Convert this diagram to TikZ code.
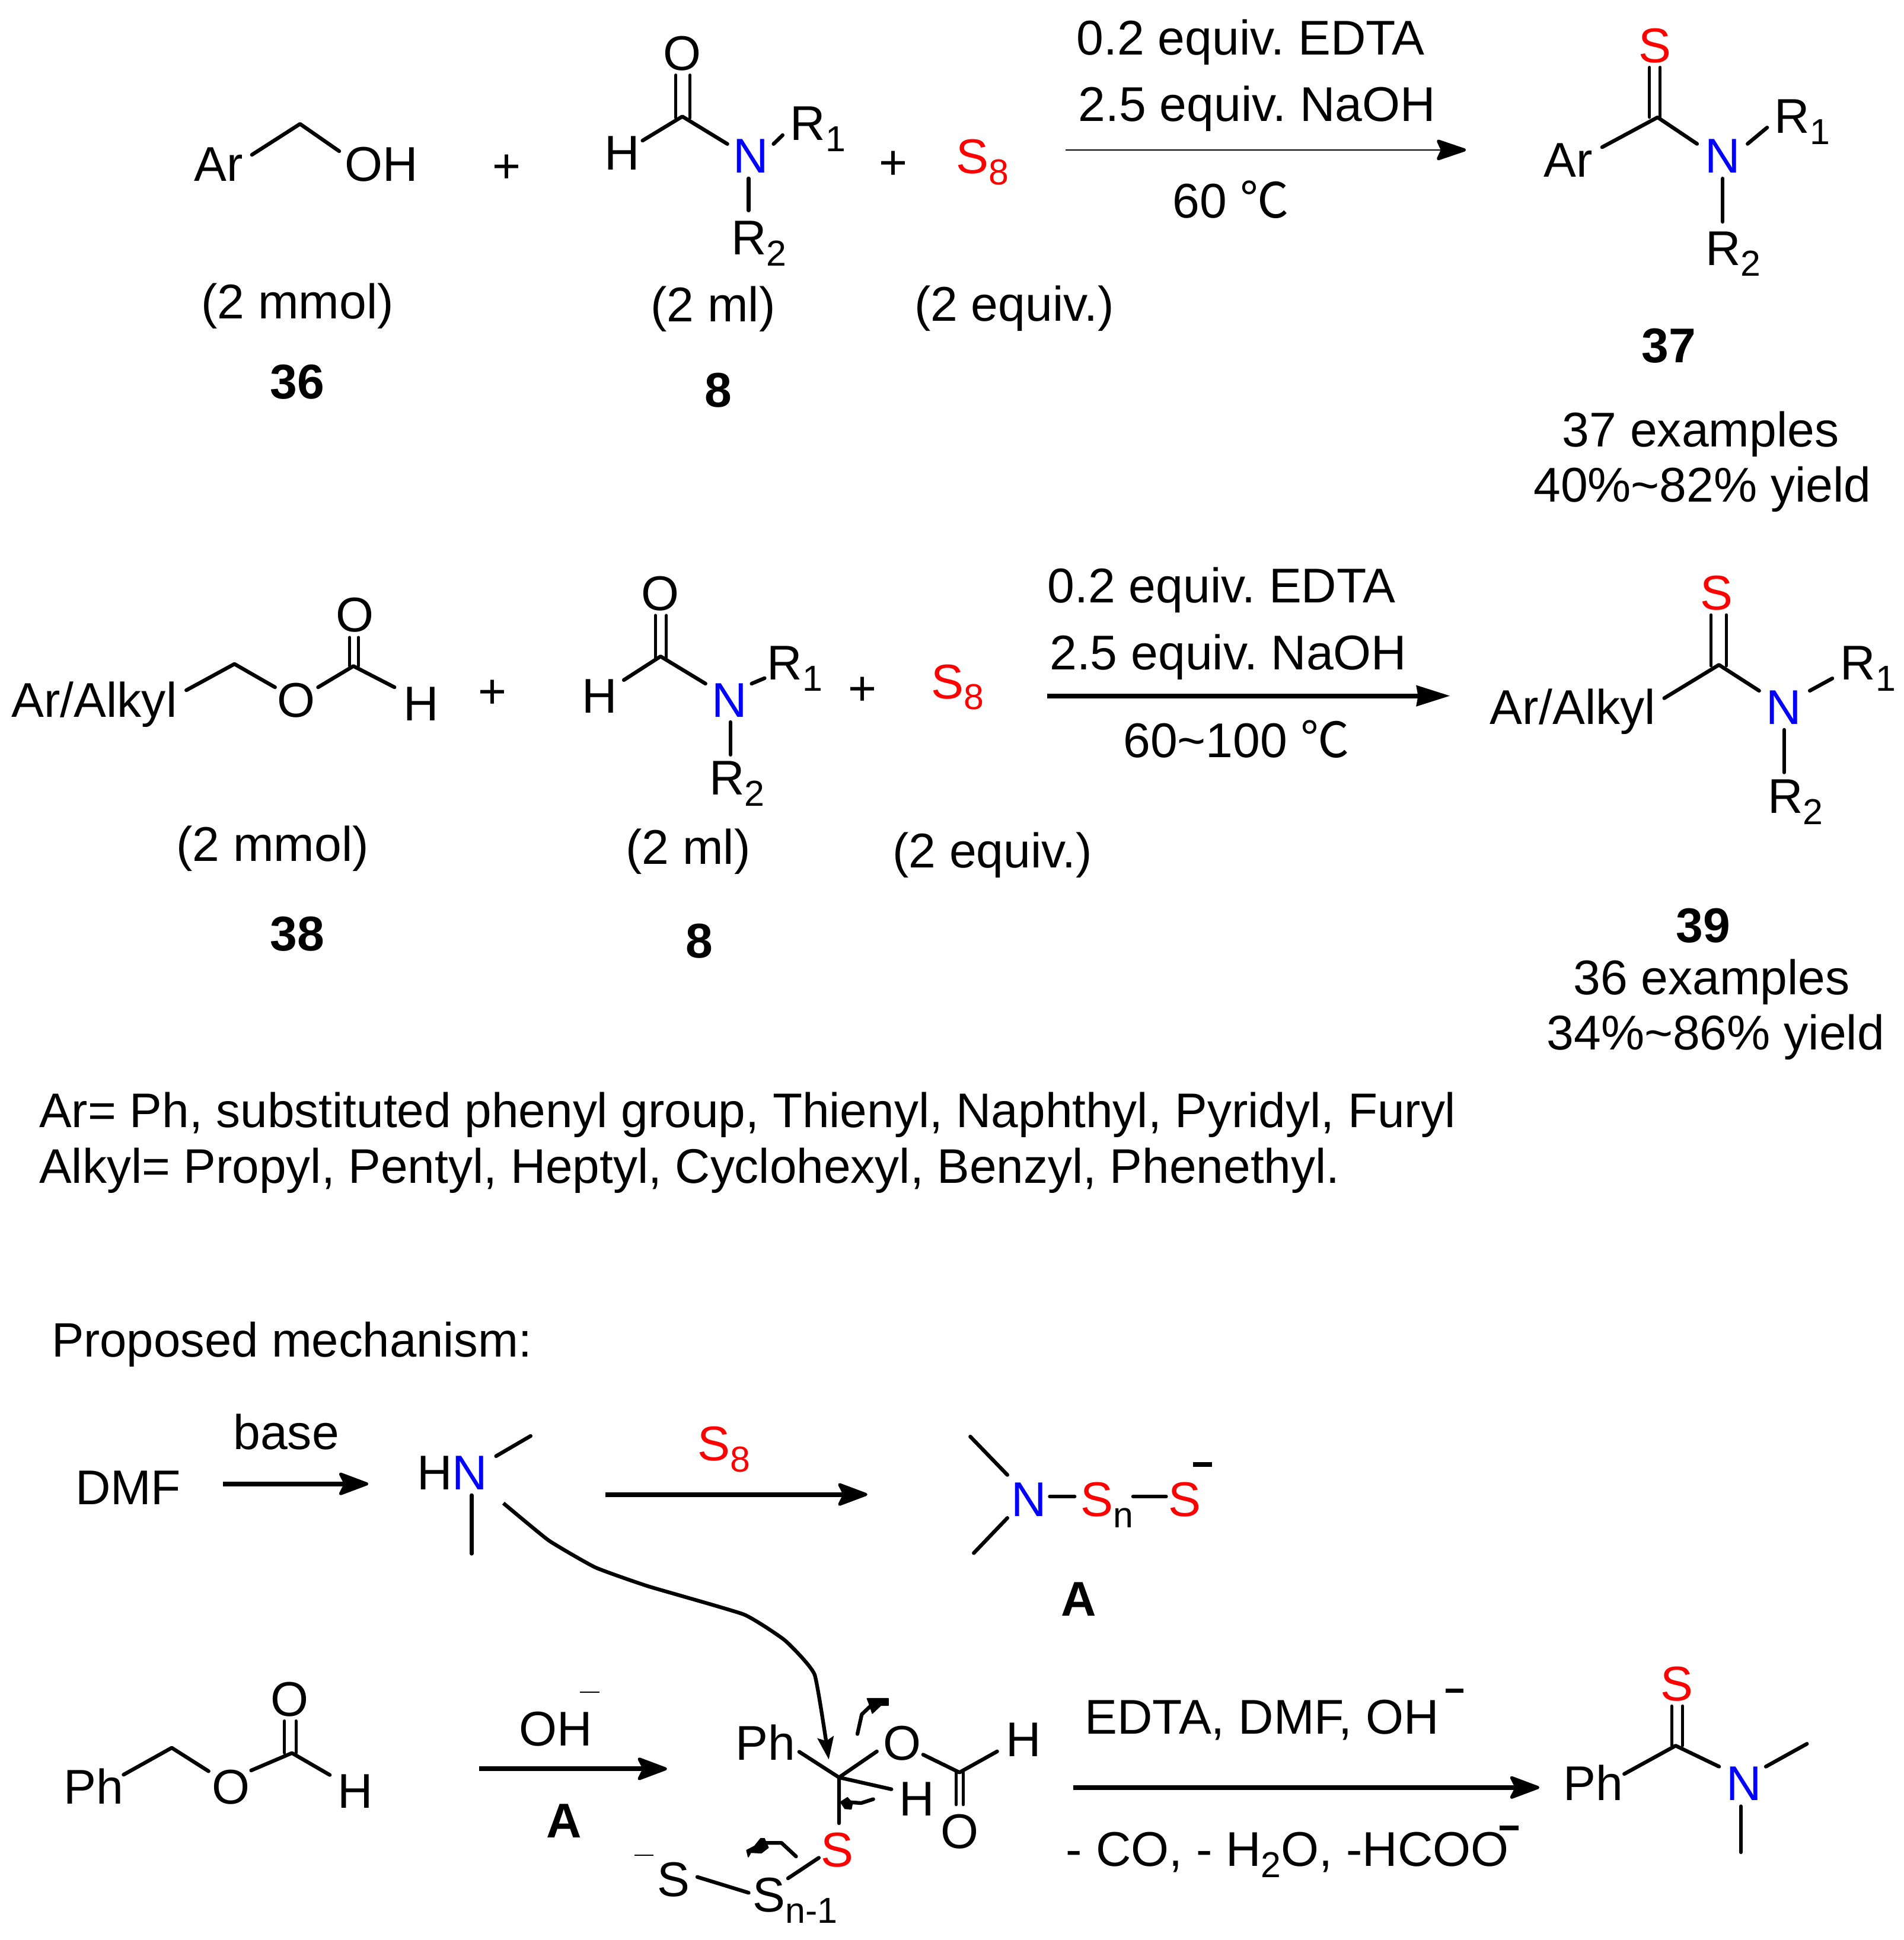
\documentclass[tikz,border=0pt]{standalone}
\usepackage{fontspec}
\setmainfont{Liberation Sans}
\newfontfamily\cjk{Noto Sans CJK SC}
\usetikzlibrary{arrows.meta}
\newcommand\lowr[1]{\raisebox{-9pt}{\fontsize{29}{29}\selectfont #1}}
\newcommand\cc[3]{\coordinate (#1) at (#2,#3);}
\tikzset{
  t/.style={inner sep=0pt,outer sep=0pt,anchor=base,yshift=-1pt,font=\fontsize{39.2}{39.2}\selectfont},
  tlz/.style={t,anchor=base west},
  tl/.style={tlz,xshift=-2pt},
  tb/.style={t,font=\fontsize{39.2}{39.2}\selectfont\bfseries},
  redt/.style={text={rgb,255:red,255;green,0;blue,0}},
  bluet/.style={text={rgb,255:red,0;green,0;blue,255}},
  bd/.style={line width=3pt,line cap=round,line join=round},
  db/.style={line width=2.4pt,line cap=round},
  rxn/.style={line width=3.8pt,-{Stealth[length=27pt,width=20pt,inset=5pt,round,line width=2.5pt]}},
  rxnb/.style={line width=3.8pt,-{Stealth[length=27pt,width=17pt,inset=1.5pt,line width=1pt]}},
  thinrxn/.style={line width=1.2pt,-{Stealth[length=27pt,width=18pt,inset=4pt,round,line width=2.5pt]}},
  chg/.style={line width=3.6pt},
  thinchg/.style={line width=1pt},
  blob/.style={fill=black,draw=black,line width=0.8pt,line join=round},
}
\begin{document}
\frenchspacing
\begin{tikzpicture}[x=1pt,y=-1pt]
\useasboundingbox[fill=white] (0,0) rectangle (1530,1559.07);
% ---------- row 1 ----------
\node[tlz] (ar1) at (156,144.6) {Ar};
\node[tl] (oh1) at (279,144.6) {OH};
\cc{a1}{202.4}{124.4}\cc{a2}{241.1}{99.6}\cc{a3}{272.6}{121.5}
\draw[bd] (a1)--(a2)--(a3);
\node[t] (plus1) at (407,146) {+};
\node[t] (o2) at (548.3,55.4) {O};
\node[tl] (h2) at (488,135.4) {H};
\node[t,bluet] (n2) at (603.5,138) {N};
\node[tl] (r1b) at (637,111.8) {R\lowr{1}};
\node[tl] (r2b) at (589.6,203.6) {R\lowr{2}};
\cc{b1}{543.1}{60.3}\cc{b2}{543.1}{94.8}\cc{b3}{554.5}{60.3}\cc{b4}{554.5}{94.8}
\draw[db] (b1)--(b2) (b3)--(b4);
\cc{b5}{516.3}{113}\cc{b6}{548.3}{93.6}\cc{b7}{584.5}{115.7}
\draw[bd] (b5)--(b6)--(b7);
\cc{b8}{621.6}{115.7}\cc{b9}{628.9}{108.6}\draw[bd] (b8)--(b9);
\cc{b10}{601.5}{143.4}\cc{b11}{601.5}{169.1}\draw[bd] (b10)--(b11);
\node[t] (plus2) at (718,143) {+};
\node[tl,redt] (s8a) at (770.5,138.5) {S\lowr{8}};
\node[t] (q1) at (239,255) {(2 mmol)};
\node[t] (q2) at (573,257.6) {(2 ml)};
\node[t] (q3) at (815,257) {(2 equiv.)};
\node[tb] (l36) at (239,319.5) {36};
\node[tb] (l8a) at (577,326) {8};
\node[t] (c1) at (1005,43.2) {0.2 equiv. EDTA};
\node[t] (c2) at (1010,96.5) {2.5 equiv. NaOH};
\node[t] (c3) at (989,174) {60 {\cjk ℃}};
\cc{r1s}{856.3}{120.5}\cc{r1e}{1178}{120.5}
\draw[thinrxn] (r1s)--(r1e);
\node[tlz] (ar3) at (1240.4,141.3) {Ar};
\node[t,redt] (s3) at (1329.7,49.5) {S};
\node[t,bluet] (n3) at (1384.5,138) {N};
\node[tl] (r1c) at (1428,106) {R\lowr{1}};
\node[tl] (r2c) at (1372.5,212) {R\lowr{2}};
\cc{c1a}{1325.5}{54.1}\cc{c1b}{1325.5}{94.3}\cc{c1c}{1334}{54.1}\cc{c1d}{1334}{94.3}
\draw[db] (c1a)--(c1b) (c1c)--(c1d);
\cc{c2a}{1287.4}{118.3}\cc{c2b}{1332}{94.3}\cc{c2c}{1363.7}{115.6}
\draw[bd] (c2a)--(c2b)--(c2c);
\cc{c3a}{1404.3}{115.6}\cc{c3b}{1420}{102.5}\draw[bd] (c3a)--(c3b);
\cc{c4a}{1384.3}{143.5}\cc{c4b}{1384.3}{178.2}\draw[bd] (c4a)--(c4b);
\node[tb] (l37) at (1341,290.2) {37};
\node[t] (e37) at (1366.6,358) {37 examples};
\node[t] (y37) at (1368,402.3) {40\%\textasciitilde 82\% yield};
% ---------- row 2 ----------
\node[tlz] (aa1) at (9.3,575.4) {Ar/Alkyl};
\node[t] (oe) at (238,575.4) {O};
\node[t] (oc) at (285,506.9) {O};
\node[tl] (he) at (326.3,578.1) {H};
\cc{d1}{149.7}{554.7}\cc{d2}{188.4}{533.6}\cc{d3}{221}{552.3}\draw[bd] (d1)--(d2)--(d3);
\cc{d4}{255.6}{552.3}\cc{d5}{284}{535.3}\cc{d6}{317}{552.3}\draw[bd] (d4)--(d5)--(d6);
\cc{d7}{281}{512.2}\cc{d8}{281}{535.3}\cc{d9}{288}{512.2}\cc{d10}{288}{535.3}
\draw[db] (d7)--(d8) (d9)--(d10);
\node[t] (plus3) at (395.5,568) {+};
\node[t] (o5) at (530.8,489.6) {O};
\node[tl] (h5) at (469.8,572.2) {H};
\node[t,bluet] (n5) at (586,575.4) {N};
\node[tl] (r1e1) at (618.5,545.5) {R\lowr{1}};
\node[tl] (r2e1) at (572,637.8) {R\lowr{2}};
\cc{e1}{526.7}{494.5}\cc{e2}{526.7}{529.2}\cc{e3}{535.5}{494.5}\cc{e4}{535.5}{529.2}
\draw[db] (e1)--(e2) (e3)--(e4);
\cc{e5}{501.3}{546.5}\cc{e6}{530.8}{527.5}\cc{e7}{566.9}{549.4}\draw[bd] (e5)--(e6)--(e7);
\cc{e8}{604}{549.4}\cc{e9}{614.4}{545}\draw[bd] (e8)--(e9);
\cc{e10}{587}{580.3}\cc{e11}{587}{606.5}\draw[bd] (e10)--(e11);
\node[t] (plus4) at (693,566) {+};
\node[tl,redt] (s8b) at (750.5,560.3) {S\lowr{8}};
\node[t] (q4) at (219,691.3) {(2 mmol)};
\node[t] (q5) at (553,693.7) {(2 ml)};
\node[t] (q6) at (797.5,696.4) {(2 equiv.)};
\node[tb] (l38) at (239,763) {38};
\node[tb] (l8b) at (562,768.6) {8};
\node[t] (c4) at (981.6,483.2) {0.2 equiv. EDTA};
\node[t] (c5) at (987,537) {2.5 equiv. NaOH};
\node[t] (c6) at (993.6,607.5) {60\textasciitilde 100 {\cjk ℃}};
\cc{r2s}{841.7}{559.2}\cc{r2e}{1165}{559.2}
\draw[rxnb] (r2s)--(r2e);
\node[tlz] (aa2) at (1197.4,581) {Ar/Alkyl};
\node[t,redt] (s6) at (1379.4,489.2) {S};
\node[t,bluet] (n6) at (1433.5,580.8) {N};
\node[tl] (r1f) at (1481,545.2) {R\lowr{1}};
\node[tl] (r2f) at (1422.5,652.6) {R\lowr{2}};
\cc{f1}{1375}{494.1}\cc{f2}{1375}{535.1}\cc{f3}{1387.2}{494.1}\cc{f4}{1387.2}{535.1}
\draw[db] (f1)--(f2) (f3)--(f4);
\cc{f5}{1337.3}{561.1}\cc{f6}{1381.3}{534.3}\cc{f7}{1413.6}{555.1}\draw[bd] (f5)--(f6)--(f7);
\cc{f8}{1454.3}{555.1}\cc{f9}{1472.4}{545.2}\draw[bd] (f8)--(f9);
\cc{f10}{1433.7}{586.5}\cc{f11}{1433.7}{620.7}\draw[bd] (f10)--(f11);
\node[tb] (l39) at (1368.6,756.5) {39};
\node[t] (e39) at (1375.5,798.3) {36 examples};
\node[t] (y39) at (1378.6,842.6) {34\%\textasciitilde 86\% yield};
% ---------- definitions ----------
\node[tlz,font=\fontsize{39.05}{39.05}\selectfont] (def1) at (31.6,905.2) {Ar= Ph, substituted phenyl group, Thienyl, Naphthyl, Pyridyl, Furyl};
\node[tlz,font=\fontsize{39.05}{39.05}\selectfont] (def2) at (31.6,949.8) {Alkyl= Propyl, Pentyl, Heptyl, Cyclohexyl, Benzyl, Phenethyl.};
\node[tlz,font=\fontsize{38.8}{38.8}\selectfont] (prop) at (41.5,1089.3) {Proposed mechanism:};
% ---------- mechanism row 1 ----------
\node[t] (dmf) at (103,1208) {DMF};
\node[t] (base) at (230,1163.8) {base};
\cc{g1}{179}{1192.5}\cc{g2}{296}{1192.5}\draw[rxn] (g1)--(g2);
\node[tl] (hn) at (337,1196) {H\textcolor{blue}{N}};
\cc{g3}{398.6}{1170.2}\cc{g4}{426.4}{1154}\draw[bd] (g3)--(g4);
\cc{g5}{379}{1201.6}\cc{g6}{379}{1248.6}\draw[bd] (g5)--(g6);
\node[tl,redt] (s8c) at (562.5,1172.8) {S\lowr{8}};
\cc{g7}{486.5}{1201}\cc{g8}{697}{1201}\draw[rxn] (g7)--(g8);
\node[t,bluet] (na) at (826.6,1217.5) {N};
\node[tl,redt] (sa) at (870.5,1217.5) {S\lowr{\textcolor{black}{n}}};
\node[tl,redt] (sb) at (941,1217.5) {S};
\node[t] (la) at (867,1297.5) {\textbf{A}};
\cc{h1}{779.7}{1154.5}\cc{h2}{809.5}{1185.3}\draw[bd] (h1)--(h2);
\cc{h3}{782.5}{1248.1}\cc{h4}{809.5}{1219.9}\draw[bd] (h3)--(h4);
\cc{h5}{843.6}{1202.6}\cc{h6}{863.5}{1202.6}\draw[bd] (h5)--(h6);
\cc{h7}{910.5}{1202.6}\cc{h8}{937}{1202.6}\draw[bd] (h7)--(h8);
\cc{h9}{958.7}{1177}\cc{h10}{973.8}{1177}\draw[chg] (h9)--(h10);
% curved attack arrow
\cc{k0}{404.5}{1208}\cc{k1}{441}{1238}\cc{k2}{478.3}{1259.6}\cc{k3}{520.6}{1274.7}
\cc{k4}{597.6}{1297.4}\cc{k5}{630.9}{1318.4}\cc{k6}{654.6}{1345.8}\cc{k7}{666}{1414}
\draw[line width=3pt,-{Stealth[length=18pt,width=13pt,inset=3pt]}]
  plot[smooth,tension=0.25] coordinates {(k0)(k1)(k2)(k3)(k4)(k5)(k6)(k7)};
% ---------- mechanism row 2 ----------
\node[tl] (ph1) at (53.3,1448.8) {Ph};
\node[t] (o9) at (185.4,1448.8) {O};
\node[t] (o10) at (232.8,1378) {O};
\node[tl] (h9) at (273.3,1452.2) {H};
\cc{m1}{99.3}{1426.2}\cc{m2}{138}{1404.6}\cc{m3}{167.6}{1423.4}\draw[bd] (m1)--(m2)--(m3);
\cc{m4}{201.8}{1422.8}\cc{m5}{234.6}{1408.8}\cc{m6}{265}{1426.4}\draw[bd] (m4)--(m5)--(m6);
\cc{m7}{228.7}{1383}\cc{m8}{228.7}{1408.8}\cc{m9}{237.8}{1383}\cc{m10}{237.8}{1408.8}
\draw[db] (m7)--(m8) (m9)--(m10);
\node[tl] (oh2) at (419,1401.8) {OH};
\cc{m11}{466}{1360}\cc{m12}{481.5}{1360}\draw[thinchg] (m11)--(m12);
\node[t] (la2) at (453.2,1476) {\textbf{A}};
\cc{m13}{385}{1421.5}\cc{m14}{536}{1421.5}\draw[rxn] (m13)--(m14);
% intermediate
\node[tl] (ph2) at (593,1413.3) {Ph};
\node[t] (o11) at (724.8,1413.3) {O};
\node[tl] (h11) at (810.3,1410.5) {H};
\node[tl] (h12) at (724.8,1458) {H};
\node[t] (o12) at (771.4,1484.6) {O};
\node[t,redt] (s11) at (673,1499.4) {S};
\node[tl] (sn1) at (607,1535.4) {S\lowr{n-1}};
\node[t] (s12) at (541.3,1523.2) {S};
\cc{p0}{674.2}{1428.4}\cc{p1}{642.2}{1407.8}\cc{p2}{704.6}{1407.5}\cc{p3}{716.3}{1437.9}\cc{p4}{674.2}{1465.2}
\draw[bd] (p1)--(p0) (p2)--(p0) (p3)--(p0) (p4)--(p0);
\cc{p5}{741.8}{1410.1}\cc{p6}{771}{1424.4}\cc{p7}{801.3}{1407.5}\draw[bd] (p5)--(p6)--(p7);
\cc{p8}{768.3}{1423.6}\cc{p9}{768.3}{1450.3}\cc{p10}{773.9}{1423.6}\cc{p11}{773.9}{1450.3}
\draw[db] (p8)--(p9) (p10)--(p11);
\cc{p12}{658}{1493}\cc{p13}{633.2}{1509.5}\draw[bd] (p12)--(p13);
\cc{p14}{560.3}{1508.4}\cc{p15}{601.6}{1521.1}\draw[bd] (p14)--(p15);
\cc{p16}{510}{1490.7}\cc{p17}{525}{1490.7}\draw[thinchg] (p16)--(p17);
% small curved arrows
\cc{q1a}{689}{1393.5}\cc{q1b}{692.5}{1377.7}\cc{q1c}{701.7}{1369}
\draw[bd] (q1a)--(q1b)--(q1c);
\fill[blob] (696.8,1365)--(713.8,1365)--(713.8,1370.5)--(707.8,1370.5)--(701,1376.9)--(698,1368)--cycle;
\cc{q2a}{701.7}{1445.9}\cc{q2b}{692}{1449}\cc{q2c}{682.3}{1448.3}
\draw[bd] (q2a)--(q2b)--(q2c);
\fill[blob] (675.4,1448.2)--(681,1444.6)--(685,1449)--(684,1453.8)--(679,1453.5)--cycle;
\cc{q3a}{639.7}{1491.9}\cc{q3b}{628}{1481}\cc{q3c}{614.2}{1481}
\draw[bd] (q3a)--(q3b)--(q3c);
\fill[blob] (611.3,1477.5)--(614.2,1477.5)--(617.4,1484.8)--(611.8,1489.1)--(603.3,1488.7)--(601.3,1492.3)--(600,1487)--(606.4,1483.6)--cycle;
% last step
\node[tl] (edta) at (873.8,1392.6) {EDTA, DMF, OH};
\cc{u1}{1161.5}{1358.6}\cc{u2}{1175.8}{1358.6}\draw[chg] (u1)--(u2);
\node[tl] (loss) at (858.7,1498.6) {- CO, - H\lowr{2}O, -HCOO};
\cc{u3}{1205}{1469}\cc{u4}{1220.3}{1469}\draw[chg] (u3)--(u4);
\cc{u5}{862.3}{1436.5}\cc{u6}{1237}{1436.5}\draw[rxn] (u5)--(u6);
\node[tl] (ph3) at (1258.4,1445.7) {Ph};
\node[t,redt] (s13) at (1347.4,1366) {S};
\node[t,bluet] (n13) at (1401.4,1445.7) {N};
\cc{v1}{1305.2}{1425.6}\cc{v2}{1346.5}{1402.9}\cc{v3}{1381.4}{1419.7}\draw[bd] (v1)--(v2)--(v3);
\cc{v4}{1343.3}{1371}\cc{v5}{1343.3}{1402.9}\cc{v6}{1352}{1371}\cc{v7}{1352}{1402.9}
\draw[db] (v4)--(v5) (v6)--(v7);
\cc{v8}{1419}{1419.7}\cc{v9}{1452}{1401.4}\draw[bd] (v8)--(v9);
\cc{v10}{1398.9}{1451.6}\cc{v11}{1398.9}{1488.5}\draw[bd] (v10)--(v11);
\end{tikzpicture}
\end{document}
